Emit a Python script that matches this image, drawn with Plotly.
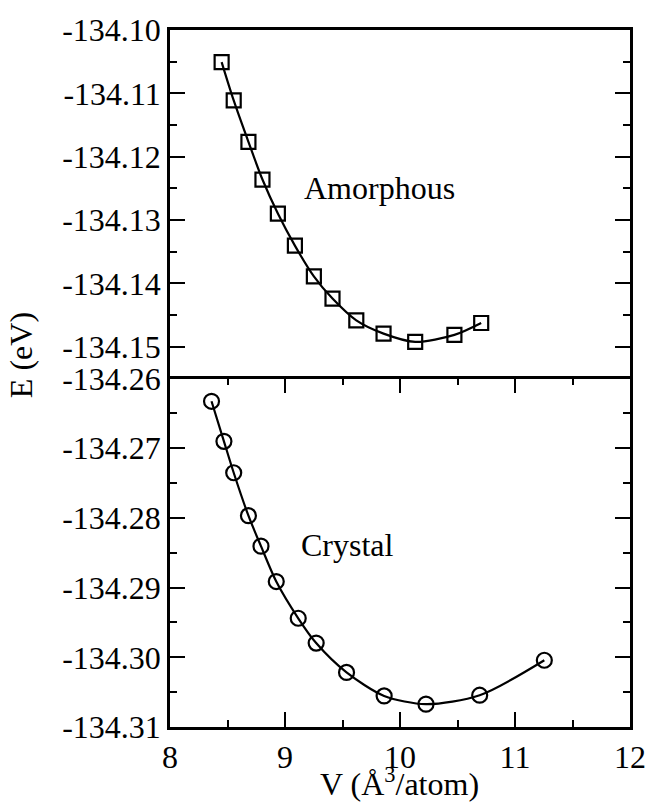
import plotly.graph_objects as go

# Amorphous (top panel)
v_amorphous = [8.449, 8.554, 8.682, 8.804, 8.938, 9.086, 9.251, 9.413, 9.620, 9.857, 10.132, 10.473, 10.706]
e_amorphous = [-134.10506, -134.11112, -134.11765, -134.12360, -134.12897, -134.13403, -134.13888,
               -134.14239, -134.14583, -134.14792, -134.14922, -134.14812, -134.14624]

# Crystal (bottom panel)
v_crystal = [8.361, 8.469, 8.554, 8.682, 8.791, 8.924, 9.115, 9.271, 9.535, 9.862, 10.226, 10.693, 11.255]
e_crystal = [-134.26327, -134.26901, -134.27352, -134.27968, -134.28405, -134.28913, -134.29440,
             -134.29796, -134.30217, -134.30554, -134.30672, -134.30544, -134.30042]

x_ticks = [8, 9, 10, 11, 12]
x_ticktext = ["8", "9", "10", "11", "12"]
y_top_ticks = [-134.10, -134.11, -134.12, -134.13, -134.14, -134.15]
y_top_ticktext = ["-134.10", "-134.11", "-134.12", "-134.13", "-134.14", "-134.15"]
y_bot_ticks = [-134.26, -134.27, -134.28, -134.29, -134.30, -134.31]
y_bot_ticktext = ["-134.26", "-134.27", "-134.28", "-134.29", "-134.30", "-134.31"]

FONT = "Liberation Serif, Times New Roman, serif"
FS = 32
LW = 2.5

fig = go.Figure()
fig.add_trace(go.Scatter(
    x=v_amorphous, y=e_amorphous, xaxis="x2", yaxis="y2", mode="lines+markers",
    line=dict(color="black", width=2.2, shape="spline", smoothing=0.8),
    marker=dict(symbol="square-open", size=14, color="black", line=dict(width=2.2, color="black")),
    showlegend=False))
fig.add_trace(go.Scatter(
    x=v_crystal, y=e_crystal, xaxis="x", yaxis="y", mode="lines+markers",
    line=dict(color="black", width=2.2, shape="spline", smoothing=0.8),
    marker=dict(symbol="circle-open", size=15, color="black", line=dict(width=2.2, color="black")),
    showlegend=False))

tickfont = dict(family=FONT, size=FS, color="black")

fig.update_layout(
    width=658, height=803,
    margin=dict(l=170, r=19, t=25, b=76),
    paper_bgcolor="white", plot_bgcolor="white",
    font=dict(family=FONT, size=FS, color="black"),
    xaxis=dict(
        domain=[0, 1], anchor="y", range=[8, 12],
        showline=True, linewidth=LW, linecolor="black", mirror="ticks",
        ticks="inside", ticklen=15, tickwidth=2, tickcolor="black",
        tickmode="array", tickvals=x_ticks, ticktext=x_ticktext,
        tickfont=tickfont, showgrid=False, zeroline=False,
        minor=dict(ticks="inside", ticklen=7, tickwidth=2, tickcolor="black",
                   tickmode="linear", tick0=8, dtick=0.5, showgrid=False),
    ),
    xaxis2=dict(
        domain=[0, 1], anchor="y2", range=[8, 12], matches="x", side="top",
        showline=True, linewidth=LW, linecolor="black", mirror=False,
        ticks="", showticklabels=False, showgrid=False, zeroline=False,
    ),
    yaxis=dict(
        domain=[0, 0.5], anchor="x", range=[-134.31, -134.26],
        showline=True, linewidth=LW, linecolor="black", mirror="ticks",
        ticks="inside", ticklen=15, tickwidth=2, tickcolor="black",
        tickmode="array", tickvals=y_bot_ticks, ticktext=y_bot_ticktext,
        tickfont=tickfont, showgrid=False, zeroline=False,
        minor=dict(ticks="inside", ticklen=7, tickwidth=2, tickcolor="black",
                   tickmode="linear", tick0=-134.31, dtick=0.005, showgrid=False),
    ),
    yaxis2=dict(
        domain=[0.5, 1], anchor="x2", range=[-134.155, -134.10],
        showline=True, linewidth=LW, linecolor="black", mirror="ticks",
        ticks="inside", ticklen=15, tickwidth=2, tickcolor="black",
        tickmode="array", tickvals=y_top_ticks, ticktext=y_top_ticktext,
        tickfont=tickfont, showgrid=False, zeroline=False,
        minor=dict(ticks="inside", ticklen=7, tickwidth=2, tickcolor="black",
                   tickmode="linear", tick0=-134.155, dtick=0.005, showgrid=False),
    ),
    annotations=[
        dict(text="Amorphous", x=9.825, y=-134.1249, xref="x2", yref="y2",
             showarrow=False, font=dict(family=FONT, size=FS, color="black"),
             xanchor="center", yanchor="middle"),
        dict(text="Crystal", x=9.544, y=-134.2839, xref="x", yref="y",
             showarrow=False, font=dict(family=FONT, size=FS, color="black"),
             xanchor="center", yanchor="middle"),
        dict(text="E (eV)", x=-0.325, y=0.5328, xref="paper", yref="paper",
             textangle=-90, showarrow=False, font=dict(family=FONT, size=FS, color="black"),
             xanchor="center", yanchor="middle"),
        dict(text="V (Å<sup>3</sup>/atom)", x=0.4989, y=-0.079, xref="paper", yref="paper",
             showarrow=False, font=dict(family=FONT, size=FS, color="black"),
             xanchor="center", yanchor="middle"),
    ],
)

fig.write_html("out.html")
